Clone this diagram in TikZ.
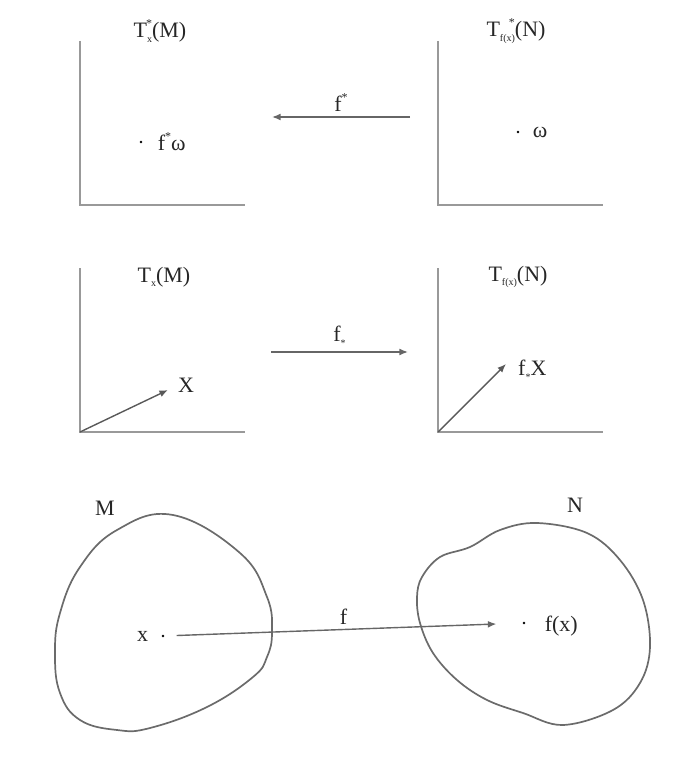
\documentclass[tikz,border=0pt]{standalone}
\usepackage{fontspec}
\setmainfont{Liberation Serif}
\usetikzlibrary{positioning,arrows.meta,calc}
\newcommand{\ssub}[1]{\raisebox{-0.45ex}{\fontsize{10}{10}\selectfont #1}}
\newcommand{\ssup}[1]{\raisebox{1ex}{\fontsize{12}{12}\selectfont #1}}
\tikzset{
  axln/.style={line width=2.2pt,black!40},
  mapln/.style={-{Latex[length=3mm,width=2.4mm]},line width=1.4pt,black!60},
  vecln/.style={-{Latex[length=3mm,width=2.4mm]},line width=1.4pt,black!65},
  pt/.style={circle,fill=black,inner sep=1pt},
  blob/.style={line width=1.7pt,black!58},
  lbl/.style={font=\fontsize{22}{24}\selectfont,text=black!85,inner sep=1pt},
}

\begin{document}
\begin{tikzpicture}[x=1pt,y=-1pt]
  \useasboundingbox (0,0) rectangle (700,773);
  % four tangent-space frames
  \foreach \ox/\oy/\nm in {80/205/a,438/205/b,80/432/c,438/432/d}{
    \coordinate (\nm) at (\ox,\oy);
    \draw[axln] (\ox,\oy-164) -- (\nm) -- (\ox+165,\oy);
  }
  \node[lbl] (tsM) at (160,31) {T\ssub{x}\llap{\ssup{*}}(M)};
  \node[lbl] (tsN) at (516,31) {T\ssub{f(x)}\llap{\ssup{*}}(N)};
  \node[lbl] (tM) at (164,277) {T\ssub{x}(M)};
  \node[lbl] (tN) at (518,277) {T\ssub{f(x)}(N)};

  % covectors
  \node[pt] (wM) at (141,142) {};
  \node[lbl,right=14pt of wM] (fw) {f\ssup{*}ω};
  \node[pt] (wN) at (518,132) {};
  \node[lbl,right=12pt of wN] (w) {ω};

  % vectors
  \coordinate (X) at (168,390);
  \coordinate (fX) at (506,364);
  \draw[vecln] (c) -- (X);
  \draw[vecln] (d) -- (fX);
  \node[lbl,right=9pt of X,yshift=5pt] (Xl) {X};
  \node[lbl,right=11pt of fX,yshift=-6pt] (fXl) {f\ssub{*}X};

  % induced maps
  \coordinate (ps0) at (410,117);
  \coordinate (ps1) at (272,117);
  \draw[mapln] (ps0) -- (ps1) node[lbl,midway,above=4pt] (fps) {f\ssup{*}};
  \coordinate (pf0) at (271,352);
  \coordinate (pf1) at (408,352);
  \draw[mapln] (pf0) -- (pf1) node[lbl,midway,above=4pt] (fpf) {f\ssub{*}};

  % manifolds
  \draw[blob] plot[smooth cycle,tension=0.7] coordinates {
    (173,515) (240,553) (267,597) (272,632) (267,657) (253,677) (207,707)
    (150,728) (117,730) (80,720) (60,693) (55,653) (60,613) (80,567) (117,530)};
  \draw[blob] plot[smooth cycle,tension=0.6] coordinates {
    (537,523) (500,530) (470,547) (440,557) (422,577) (417,597) (420,623)
    (433,653) (457,680) (487,700) (523,713) (563,725) (613,710) (640,683)
    (650,647) (643,600) (620,560) (587,533)};
  \node[lbl] (M) at (105,508) {M};
  \node[lbl] (N) at (575,505) {N};

  \node[pt] (x) at (163,636) {};
  \node[lbl,left=12pt of x] (xl) {x};
  \node[pt] (fx) at (524,623) {};
  \node[lbl,right=18pt of fx,yshift=-3pt] (fxl) {f(x)};
  \draw[mapln,shorten <=12pt,shorten >=26pt] (x) -- (fx)
    node[lbl,pos=0.5,above=3pt] (fl) {f};
\end{tikzpicture}
\end{document}
